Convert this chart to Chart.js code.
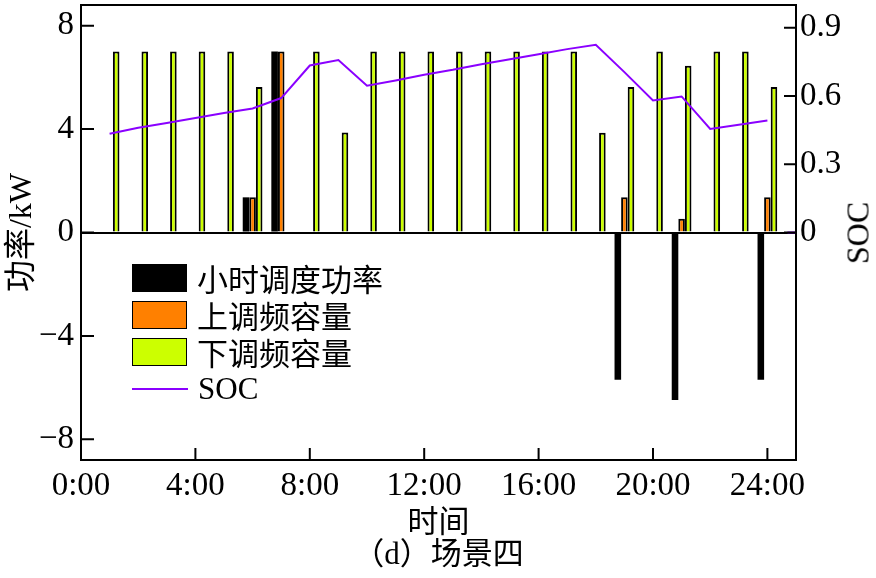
<!DOCTYPE html>
<html>
<head>
<meta charset="utf-8">
<script src="https://cdn.jsdelivr.net/npm/chart.js@4.4.1/dist/chart.umd.min.js"></script>
<style>
  body { margin: 0; background: #fff; }
  #wrap { position: relative; width: 876px; height: 578px; }
  .serif { font-family: 'Liberation Serif', 'Noto Sans CJK SC', serif; color: #000; }
  #legend { position: absolute; left: 132px; top: 259px; font-size: 31px; }
  #legend .row { display: flex; align-items: center; height: 37px; }
  #legend .box { width: 55px; height: 28px; box-sizing: border-box; margin-right: 10px; }
  #legend .ln { width: 56px; height: 2px; margin-right: 10px; }
  #socTitle { position: absolute; left: 858px; top: 233px; font-size: 32px;
              transform: translate(-50%, -50%) rotate(-90deg); white-space: nowrap; }
</style>
</head>
<body>
<div id="wrap">
  <canvas id="chart" width="876" height="578"></canvas>
  <div id="legend" class="serif"></div>
  <div id="socTitle" class="serif">SOC</div>
</div>
<script>
// hours 1..24
const hours = [1,2,3,4,5,6,7,8,9,10,11,12,13,14,15,16,17,18,19,20,21,22,23,24];
// 小时调度功率 (kW)
const dispatchPower = [null,null,null,null,null,1.36,7.0,null,null,null,null,null,null,null,null,null,null,null,-5.7,null,-6.48,null,null,-5.7];
// 上调频容量 (kW)
const upCapacity = [null,null,null,null,null,1.36,7.0,null,null,null,null,null,null,null,null,null,null,null,1.36,null,0.53,null,null,1.36];
// 下调频容量 (kW)
const downCapacity = [7,7,7,7,7,5.63,null,7,3.87,7,7,7,7,7,7,7,7,3.86,5.63,7,6.45,7,7,5.63];
// SOC
const socValues = [0.434,0.46,0.481,0.503,0.525,0.545,0.591,0.734,0.758,0.645,0.668,0.693,0.715,0.74,0.762,0.784,0.806,0.825,0.705,0.58,0.598,0.455,0.474,0.492];
// trailing piece of the SOC trace at the right edge
const socTailHours = [24.7, 25.2];
const socTailValues = [0, 0];

const hourTicks = [0,4,8,12,16,20,24];
const powerTicks = [-8,-4,0,4,8];
const socTicks = [0,0.3,0.6,0.9];

const FONT = "'Liberation Serif', 'Noto Sans CJK SC', serif";
const PURPLE = '#8a00ff';
const ORANGE = '#ff8000';
const GREEN = '#ccff00';

const toXY = (xs, ys) => xs.map((x, i) => ({ x: x, y: ys[i] }));

// frame around the plot and inward tick marks
const framePlugin = {
    id: 'frame',
    afterDraw(chart) {
        const { ctx, chartArea: a, scales } = chart;
        ctx.save();
        ctx.strokeStyle = '#000';
        ctx.lineWidth = 2;
        ctx.beginPath();
        scales.y.ticks.forEach(t => {
            const p = scales.y.getPixelForValue(t.value);
            ctx.moveTo(a.left, p); ctx.lineTo(a.left + 13, p);
        });
        scales.y2.ticks.forEach(t => {
            const p = scales.y2.getPixelForValue(t.value);
            ctx.moveTo(a.right - 12, p); ctx.lineTo(a.right, p);
        });
        scales.x.ticks.forEach(t => {
            const p = scales.x.getPixelForValue(t.value);
            ctx.moveTo(p, a.bottom - 12); ctx.lineTo(p, a.bottom);
        });
        ctx.stroke();
        ctx.strokeRect(a.left, a.top, a.right - a.left, a.bottom - a.top);
        ctx.restore();
    }
};

// fixed axis boxes so the plot area sits where it does in the figure
const fixVertical = w => s => { s.width = w; s.paddingTop = 0; s.paddingBottom = 0; };
const fixHorizontal = h => s => { s.height = h; s.paddingLeft = 0; s.paddingRight = 0; };

const chart = new Chart(document.getElementById('chart'), {
    type: 'bar',
    data: {
        datasets: [
            {
                type: 'line',
                label: 'SOC',
                data: toXY(hours, socValues),
                yAxisID: 'y2',
                borderColor: PURPLE,
                borderWidth: 2,
                pointRadius: 0,
                tension: 0,
                order: 0
            },
            {
                type: 'line',
                label: 'SOC tail',
                data: toXY(socTailHours, socTailValues),
                yAxisID: 'y2',
                borderColor: PURPLE,
                borderWidth: 2,
                pointRadius: 0,
                order: 0
            },
            {
                label: '小时调度功率',
                data: toXY(hours, dispatchPower),
                backgroundColor: '#000',
                borderWidth: 0,
                order: 1
            },
            {
                label: '上调频容量',
                data: toXY(hours, upCapacity),
                backgroundColor: ORANGE,
                borderColor: '#000',
                borderWidth: 2,
                order: 1
            },
            {
                label: '下调频容量',
                data: toXY(hours, downCapacity),
                backgroundColor: GREEN,
                borderColor: '#000',
                borderWidth: 2,
                order: 1
            }
        ]
    },
    options: {
        responsive: false,
        animation: false,
        layout: { padding: { top: 5, left: 0, right: 0, bottom: 0 } },
        categoryPercentage: 0.69,
        barPercentage: 1.0,
        scales: {
            x: {
                type: 'linear',
                min: 0,
                max: 25,
                offset: false,
                afterBuildTicks: s => { s.ticks = hourTicks.map(v => ({ value: v })); },
                afterFit: fixHorizontal(118),
                grid: { display: false },
                border: { display: false },
                ticks: {
                    color: '#000',
                    padding: -1,
                    maxRotation: 0,
                    font: { family: FONT, size: 33 },
                    callback: v => v + ':00'
                },
                title: {
                    display: true,
                    text: ['时间', '（d）场景四'],
                    color: '#000',
                    font: { family: FONT, size: 31, lineHeight: 1.03 },
                    padding: { top: 0, bottom: 6 }
                }
            },
            y: {
                position: 'left',
                min: -8.8,
                max: 8.8,
                afterBuildTicks: s => { s.ticks = powerTicks.map(v => ({ value: v })); },
                afterFit: fixVertical(81),
                border: { display: false },
                grid: {
                    drawTicks: false,
                    lineWidth: 2,
                    color: c => (c.tick && c.tick.value === 0) ? '#000' : 'rgba(0,0,0,0)'
                },
                ticks: {
                    color: '#000',
                    padding: 7,
                    font: { family: FONT, size: 33 },
                    callback: v => v < 0 ? '\u2212' + Math.abs(v) : String(v)
                },
                title: {
                    display: true,
                    text: '功率/kW',
                    color: '#000',
                    font: { family: FONT, size: 32, lineHeight: 1 },
                    padding: { top: 7, bottom: 0 }
                }
            },
            y2: {
                position: 'right',
                min: -1,
                max: 1,
                afterBuildTicks: s => { s.ticks = socTicks.map(v => ({ value: v })); },
                afterFit: fixVertical(80),
                border: { display: false },
                grid: { display: false, drawTicks: false },
                ticks: {
                    color: '#000',
                    padding: 4,
                    font: { family: FONT, size: 33 },
                    callback: v => v === 0 ? '0' : v.toFixed(1)
                }
            }
        },
        plugins: {
            legend: { display: false },
            tooltip: { enabled: false }
        }
    },
    plugins: [framePlugin]
});

// legend inside the plot, built from the datasets
const legend = document.getElementById('legend');
[2, 3, 4, 0].forEach(i => {
    const ds = chart.data.datasets[i];
    const row = document.createElement('div');
    row.className = 'row';
    const mark = document.createElement('div');
    if (ds.type === 'line') {
        mark.className = 'ln';
        mark.style.background = ds.borderColor;
    } else {
        mark.className = 'box';
        mark.style.background = ds.backgroundColor;
        mark.style.border = ds.borderWidth ? '1.5px solid #000' : 'none';
    }
    const label = document.createElement('span');
    label.textContent = ds.label;
    row.appendChild(mark);
    row.appendChild(label);
    legend.appendChild(row);
});
</script>
</body>
</html>
